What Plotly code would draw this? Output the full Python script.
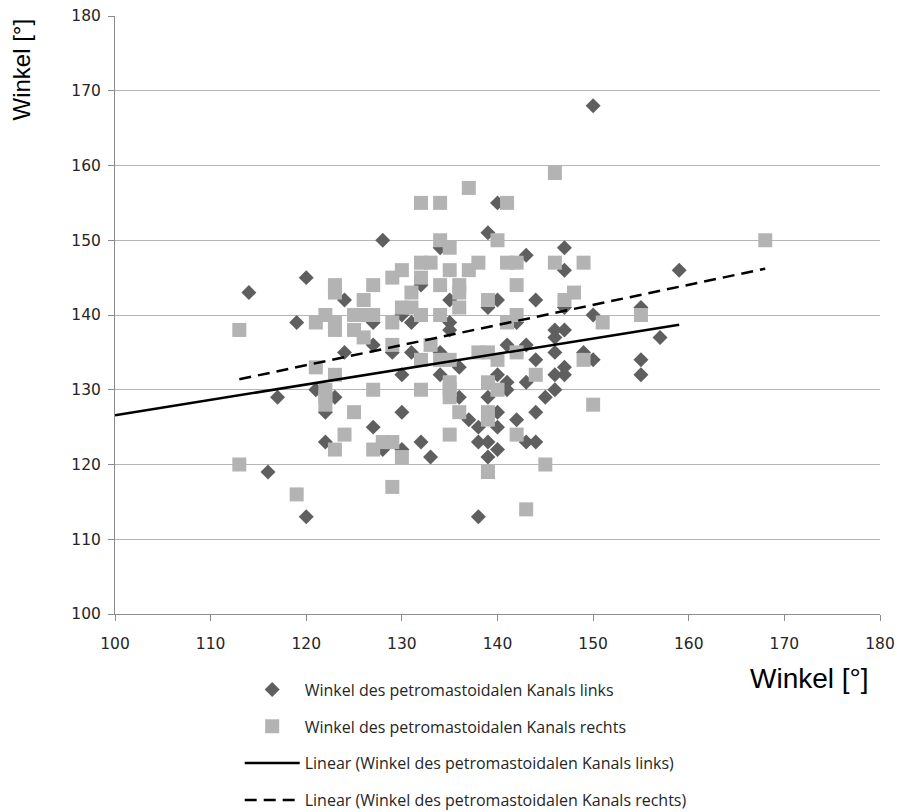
import plotly.graph_objects as go

# Winkel des petromastoidalen Kanals links (x, y)
links_x = [114, 116, 117, 119, 120, 120,
           121, 122, 122, 123, 124, 124,
           127, 127, 127, 128, 128,
           129, 130, 130, 130, 130, 131, 131,
           132, 132, 133, 134, 134, 134,
           135, 135, 135, 136, 136, 137,
           138, 138, 138, 139, 139, 139, 139, 139,
           140, 140, 140, 140, 140, 140,
           141, 141, 141, 142, 142,
           143, 143, 143, 143, 144, 144, 144, 144,
           145, 146, 146, 146, 146, 146,
           147, 147, 147, 147, 147, 147,
           149, 150, 150, 150, 155, 155, 155, 157, 159]
links_y = [143, 119, 129, 139, 113, 145,
           130, 127, 123, 129, 142, 135,
           139, 136, 125, 150, 122,
           135, 140, 132, 127, 122, 139, 135,
           144, 123, 121, 149, 135, 132,
           142, 139, 138, 133, 129, 126,
           125, 123, 113, 151, 141, 129, 123, 121,
           155, 142, 132, 127, 125, 122,
           136, 131, 130, 139, 126,
           148, 136, 131, 123, 142, 134, 127, 123,
           129, 138, 137, 135, 132, 130,
           149, 146, 141, 138, 133, 132,
           135, 168, 140, 134, 141, 134, 132, 137, 146]

# Winkel des petromastoidalen Kanals rechts (x, y)
rechts_x = [113, 113, 119,
            121, 121, 122, 122, 122, 122,
            123, 123, 123, 123, 123, 123,
            124, 125, 125, 125,
            126, 126, 126, 127, 127, 127, 127,
            128, 129, 129, 129, 129, 129,
            130, 130, 130, 131, 131,
            132, 132, 132, 132, 132, 132,
            133, 133, 134, 134, 134, 134, 134,
            135, 135, 135, 135, 135, 135, 135,
            136, 136, 136, 136, 137, 137,
            138, 138, 139, 139, 139, 139, 139, 139,
            140, 140, 140, 141, 141, 141,
            142, 142, 142, 142, 142, 143,
            144, 145, 146, 146, 147, 148, 149, 149,
            150, 151, 155, 168]
rechts_y = [138, 120, 116,
            139, 133, 140, 130, 129, 128,
            144, 143, 139, 138, 132, 122,
            124, 140, 138, 127,
            142, 140, 137, 144, 140, 130, 122,
            123, 145, 139, 136, 123, 117,
            146, 141, 121, 143, 141,
            155, 147, 145, 140, 134, 130,
            147, 136, 155, 150, 144, 140, 134,
            149, 146, 134, 131, 130, 129, 124,
            144, 143, 141, 127, 157, 146,
            147, 135, 142, 135, 131, 127, 126, 119,
            150, 134, 130, 155, 147, 139,
            147, 144, 140, 135, 124, 114,
            132, 120, 159, 147, 142, 143, 147, 134,
            128, 139, 140, 150]

# Linear trend lines (start / end of each fitted line)
trend_links_x = [100, 159]
trend_links_y = [126.6, 138.7]
trend_rechts_x = [113, 168]
trend_rechts_y = [131.4, 146.2]

names = [
    "Winkel des petromastoidalen Kanals links",
    "Winkel des petromastoidalen Kanals rechts",
    "Linear (Winkel des petromastoidalen Kanals links)",
    "Linear (Winkel des petromastoidalen Kanals rechts)",
]

fig = go.Figure()
fig.add_trace(go.Scatter(
    x=links_x, y=links_y, mode="markers", name=names[0], legendgroup="a",
    marker=dict(symbol="diamond", size=11.5, color="#5f5f5f", line=dict(width=0)),
))
fig.add_trace(go.Scatter(
    x=rechts_x, y=rechts_y, mode="markers", name=names[1], legendgroup="b",
    marker=dict(symbol="square", size=14, color="#b3b3b3", line=dict(width=0)),
))
fig.add_trace(go.Scatter(
    x=trend_links_x, y=trend_links_y, mode="lines", name=names[2], legendgroup="c",
    line=dict(color="#000000", width=2.5),
))
fig.add_trace(go.Scatter(
    x=trend_rechts_x, y=trend_rechts_y, mode="lines", name=names[3], legendgroup="d",
    line=dict(color="#000000", width=2.5, dash="12px,7px"),
))

tick_font = dict(family="DejaVu Sans", size=15.5, color="#262626")

fig.update_layout(
    width=897, height=812,
    margin=dict(l=115, r=17, t=16, b=198, autoexpand=False),
    paper_bgcolor="white", plot_bgcolor="white",
    showlegend=True,
    legend=dict(
        x=0.163, y=-0.098, xanchor="left", yanchor="top",
        font=dict(family="Open Sans", size=16, color="#262626"),
        tracegroupgap=13, itemwidth=55, bgcolor="rgba(0,0,0,0)",
    ),
    xaxis=dict(
        range=[100, 180], dtick=10, tick0=100,
        showgrid=False, zeroline=False,
        showline=True, linecolor="#8c8c8c", linewidth=1,
        ticks="outside", ticklen=6, tickcolor="#8c8c8c",
        tickfont=tick_font, ticklabelstandoff=9,
    ),
    yaxis=dict(
        range=[100, 180], dtick=10, tick0=100,
        showgrid=True, gridcolor="#b5b5b5", gridwidth=1, zeroline=False,
        showline=True, linecolor="#8c8c8c", linewidth=1,
        ticks="outside", ticklen=6, tickcolor="#8c8c8c",
        tickfont=tick_font, ticklabelstandoff=4,
    ),
    annotations=[
        dict(text="Winkel [°]", xref="paper", yref="paper", x=0.988, y=-0.108,
             xanchor="right", yanchor="middle", showarrow=False,
             font=dict(family="Liberation Sans", size=28, color="#000000")),
        dict(text="Winkel [°]", xref="paper", yref="paper", x=-0.122, y=0.91,
             xanchor="center", yanchor="middle", showarrow=False, textangle=-90,
             font=dict(family="Liberation Sans", size=24, color="#000000")),
    ],
)

fig.write_html("out.html")
